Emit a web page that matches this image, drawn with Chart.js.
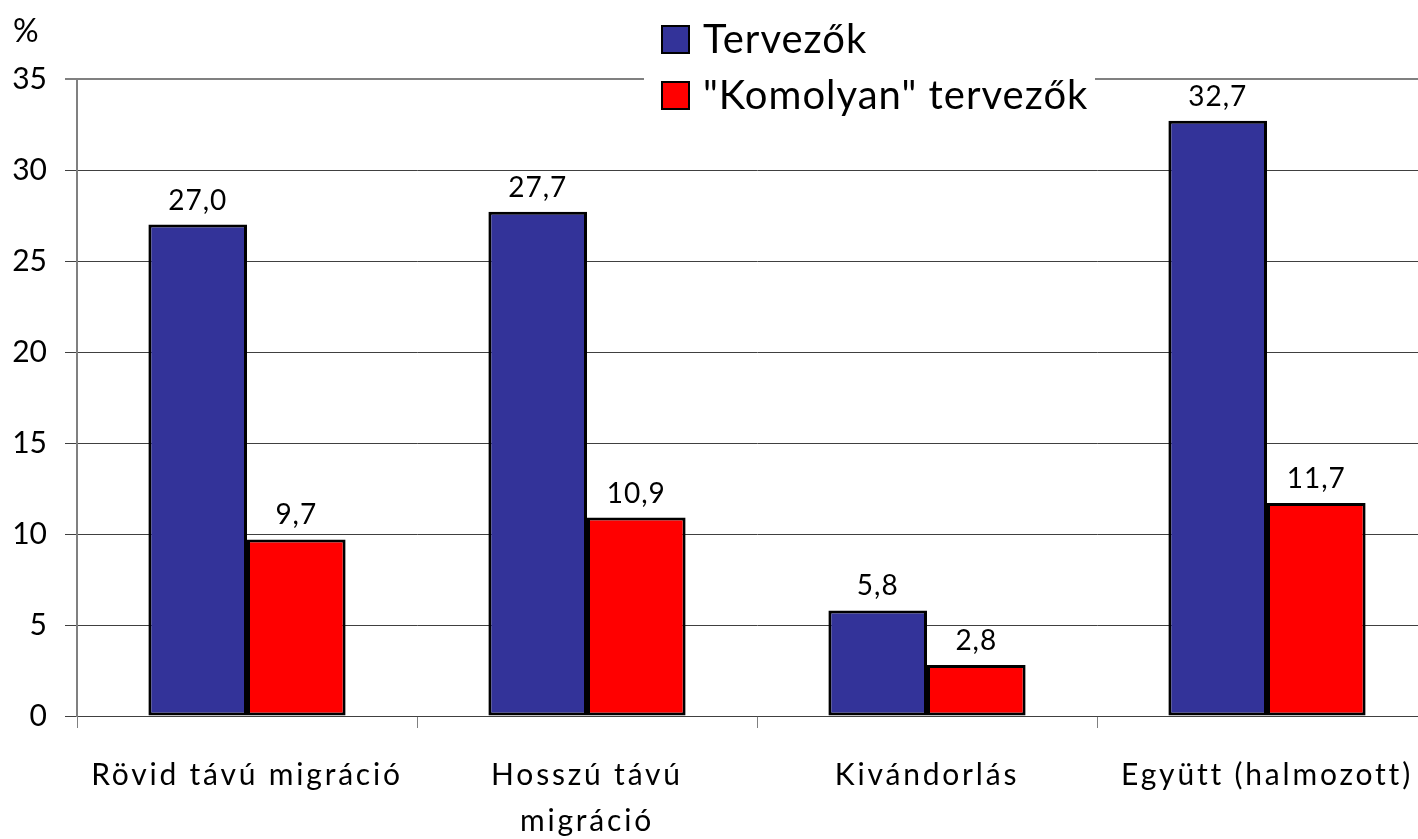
<!DOCTYPE html>
<html>
<head>
<meta charset="utf-8">
<script src="https://cdn.jsdelivr.net/npm/chart.js@4/dist/chart.umd.min.js"></script>
<style>
    html, body { margin: 0; padding: 0; background: #fff; overflow: hidden; }
    #chart { display: block; }
</style>
</head>
<body>
<canvas id="chart" width="1460" height="839"></canvas>
<script>
// Chart data
const categories = ['Rövid távú migráció', ['Hosszú távú', 'migráció'], 'Kivándorlás', 'Együtt (halmozott)'];
const seriesNames = ['Tervezők', '"Komolyan" tervezők'];
const tervezok = [27.0, 27.7, 5.8, 32.7];
const komolyan = [9.7, 10.9, 2.8, 11.7];
const yTicks = [0, 5, 10, 15, 20, 25, 30, 35];

const FONT = 'Lato, "Open Sans", sans-serif';
const BLUE = '#333399';
const RED = '#FF0000';

// Value labels above each bar, comma as decimal separator
const valueLabels = {
    id: 'valueLabels',
    afterDatasetsDraw(chart) {
        const ctx = chart.ctx;
        ctx.save();
        ctx.font = '28px ' + FONT;
        ctx.letterSpacing = '1px';
        ctx.fillStyle = '#000';
        ctx.textAlign = 'center';
        ctx.textBaseline = 'bottom';
        chart.data.datasets.forEach((ds, i) => {
            chart.getDatasetMeta(i).data.forEach((bar, j) => {
                ctx.fillText(ds.data[j].toFixed(1).replace('.', ','), bar.x, bar.y - 10);
            });
        });
        ctx.restore();
    }
};

// Legend box over the top gridline, plus the "%" axis caption
const boxLegend = {
    id: 'boxLegend',
    afterDraw(chart) {
        const ctx = chart.ctx;
        ctx.save();
        ctx.fillStyle = '#fff';
        ctx.fillRect(644, 14, 451, 112);

        ctx.font = '40px ' + FONT;
        ctx.letterSpacing = '1px';
        ctx.textBaseline = 'middle';
        ctx.textAlign = 'left';
        chart.data.datasets.forEach((ds, i) => {
            const y = 39 + i * 56;
            ctx.fillStyle = ds.backgroundColor;
            ctx.fillRect(662, y - 13, 27, 27);
            ctx.lineWidth = 2;
            ctx.strokeStyle = '#000';
            ctx.strokeRect(662, y - 13, 27, 27);
            ctx.fillStyle = '#000';
            ctx.fillText(ds.label, 703, y + 1);
        });

        ctx.letterSpacing = '0px';
        ctx.font = '32px ' + FONT;
        ctx.fillText('%', 13, 32);
        ctx.restore();
    }
};

const ctx = document.getElementById('chart');
new Chart(ctx, {
    type: 'bar',
    data: {
        labels: categories,
        datasets: [{
            label: seriesNames[0],
            data: tervezok,
            backgroundColor: BLUE,
            borderColor: '#000',
            borderWidth: 3,
            borderSkipped: false
        }, {
            label: seriesNames[1],
            data: komolyan,
            backgroundColor: RED,
            borderColor: '#000',
            borderWidth: 3,
            borderSkipped: false
        }]
    },
    options: {
        responsive: false,
        animation: false,
        layout: {
            padding: { top: 79, right: 23, left: 0, bottom: 0 }
        },
        datasets: {
            bar: {
                categoryPercentage: 0.58,
                barPercentage: 1.0
            }
        },
        plugins: {
            legend: { display: false },
            tooltip: { enabled: false }
        },
        scales: {
            x: {
                grid: {
                    offset: true,
                    drawOnChartArea: false,
                    drawTicks: true,
                    tickLength: 12,
                    color: '#808080'
                },
                border: { color: '#404040', width: 1 },
                ticks: {
                    color: '#000',
                    font: { family: FONT, size: 30, lineHeight: 1.53 },
                    padding: 24,
                    maxRotation: 0,
                    autoSkip: false
                },
                afterFit(scale) {
                    scale.height = 839 - 716;
                    // category labels in the reference are widely spaced
                    if (!scale._spaced) {
                        const draw = scale.drawLabels;
                        scale.drawLabels = function (area) {
                            this.ctx.save();
                            this.ctx.letterSpacing = '2.8px';
                            draw.call(this, area);
                            this.ctx.restore();
                        };
                        scale._spaced = true;
                    }
                }
            },
            y: {
                min: 0,
                max: 35,
                afterBuildTicks(scale) { scale.ticks = yTicks.map(v => ({ value: v })); },
                grid: {
                    color: (c) => c.tick && c.tick.value === 35 ? '#808080' : '#404040',
                    lineWidth: (c) => c.tick && c.tick.value === 35 ? 2 : 1,
                    tickLength: 12
                },
                border: { color: '#808080', width: 2 },
                ticks: {
                    color: '#000',
                    font: { family: FONT, size: 30 },
                    padding: 18
                },
                afterFit(scale) { scale.width = 77; }
            }
        }
    },
    plugins: [valueLabels, boxLegend]
});
</script>
</body>
</html>
